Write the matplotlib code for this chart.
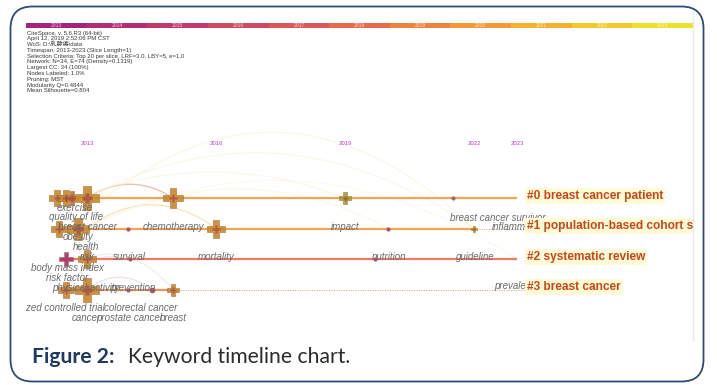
import numpy as np
import matplotlib
matplotlib.use("Agg")
import matplotlib.pyplot as plt
from matplotlib.patches import FancyBboxPatch

plt.rcParams['font.family'] = ['Liberation Sans', 'Noto Sans CJK SC']

# ---- data ----
slice_years = [2013, 2014, 2015, 2016, 2017, 2018, 2019, 2020, 2021, 2022, 2023]
slice_colors = ['#a3247f', '#b22d77', '#c03a6d', '#cd4a63', '#d95a57', '#e46c4b',
                '#ec8340', '#f29a37', '#f4b12f', '#f3c92b', '#efe12a']

info_lines = [
    "CiteSpace, v. 5.6.R3 (64-bit)",
    "April 12, 2019 2:52:06 PM CST",
    "WoS: D:\\乳腺癌\\data",
    "Timespan: 2013-2023 (Slice Length=1)",
    "Selection Criteria: Top 20 per slice, LRF=3.0, LBY=5, e=1.0",
    "Network: N=34, E=74 (Density=0.1319)",
    "Largest CC: 34 (100%)",
    "Nodes Labeled: 1.0%",
    "Pruning: MST",
    "Modularity Q=0.4844",
    "Mean Silhouette=0.804",
]

timeline_years = [2013, 2016, 2019, 2022, 2023]

cluster_labels = ["#0 breast cancer patient", "#1 population-based cohort study",
                  "#2 systematic review", "#3 breast cancer"]
cluster_rows = [0, 1, 2, 3]
line_start = [2012.4, 2012.4, 2012.4, 2012.4]
solid_end = [2023.0, 2022.0, 2023.0, 2015.0]
dotted_end = [2023.0, 2023.2, 2023.0, 2023.2]
line_colors = ['#f0a456', '#f0a456', '#f07c68', '#e8965e']

node_year = [2012.3, 2012.5, 2012.65, 2013.0, 2015.0, 2019.0, 2021.5,
             2012.35, 2012.8, 2013.95, 2016.0, 2020.0, 2022.0,
             2012.5, 2013.0, 2014.0, 2019.7,
             2012.5, 2013.0, 2013.95, 2014.5, 2015.0]
node_row = [0, 0, 0, 0, 0, 0, 0,
            1, 1, 1, 1, 1, 1,
            2, 2, 2, 2,
            3, 3, 3, 3, 3]
node_size = [11, 12, 10, 17, 14, 8, 2,
             12, 16, 2, 13, 2, 5,
             10, 13, 2, 2,
             12, 17, 2, 3, 9]
node_color = ['#c98a30', '#c98a30', '#b8703a', '#c98a30', '#c98a30', '#a9a232', '#b06060',
              '#c98a30', '#c98a30', '#b05060', '#c98a30', '#b05060', '#a9a232',
              '#b0307a', '#c98a30', '#b05060', '#b05060',
              '#c98a30', '#c98a30', '#b05060', '#b05060', '#c98a30']

kw_text = ["exercise", "quality of life", "breast cancer", "chemotherapy", "obesity",
           "health", "risk", "survival", "mortality", "nutrition", "guideline",
           "body mass index", "risk factor", "physical activity", "prevention",
           "colorectal cancer", "cancer", "prostate cancer", "breast",
           "impact", "breast cancer survivor", "inflammation", "prevalence"]
kw_year = [2012.30, 2012.12, 2012.33, 2014.30, 2012.44,
           2012.67, 2012.84, 2013.60, 2015.58, 2019.63, 2021.58,
           2011.70, 2012.05, 2012.19, 2013.53,
           2013.40, 2012.65, 2013.21, 2014.70,
           2018.67, 2021.44, 2022.42, 2022.47]
kw_row = [0.33, 0.62, 0.95, 0.95, 1.28,
          1.61, 1.93, 1.93, 1.93, 1.93, 1.93,
          2.30, 2.62, 2.95, 2.95,
          3.61, 3.93, 3.93, 3.93,
          0.95, 0.66, 0.95, 2.89]
# this one runs off the left edge, so anchor it by its right end
rct_text, rct_year, rct_row = "randomized controlled trial", 2013.42, 3.61

# links: from (year, row) to (year, row), control row, colour, alpha
link_a = [(2013.0, 0), (2013.0, 1), (2012.6, 1), (2012.8, 0), (2013.0, 1),
          (2013.0, 0), (2013.0, 1), (2013.0, 3), (2012.5, 3), (2012.8, 1), (2013.0, 2)]
link_b = [(2015.0, 0), (2016.0, 1), (2022.0, 1), (2019.0, 0), (2020.0, 1),
          (2022.0, 1), (2023.0, 2), (2014.5, 3), (2013.9, 2), (2012.9, 3), (2015.0, 3)]
link_ctrl = [-0.9, -0.55, -5.3, -1.7, -1.6, -3.4, -2.6, 2.2, 1.6, 2.0, 1.4]
link_color = ['#eab0a0', '#f2dca0', '#f8f4d8', '#f8f2d8', '#f8f3da',
              '#f8f3d8', '#faf5de', '#e6d0e4', '#ead4e6', '#eed0dc', '#ead8e6']
link_alpha = [0.8, 0.7, 0.6, 0.5, 0.5, 0.5, 0.45, 0.6, 0.5, 0.5, 0.45]

# ---- figure ----
W, H = 717, 385
fig = plt.figure(figsize=(W / 100, H / 100), dpi=100)

bg = fig.add_axes([0, 0, 1, 1])
bg.set_xlim(0, W)
bg.set_ylim(H, 0)
bg.axis('off')

# frame and inner image edge
bg.add_patch(FancyBboxPatch((10.5, 6.5), 693, 375, boxstyle="round,pad=0,rounding_size=22",
                            fc='white', ec='#2f4a78', lw=1.3, zorder=0))
bg.plot([693, 693], [12, 340], color='#e8e8e8', lw=1.0, zorder=1)

# info text
for i, line in enumerate(info_lines):
    bg.text(27, 33 + i * 5.8, line, fontsize=4.3, color='#3a3a3a', va='center', ha='left')

# caption
bg.text(32, 363, "Figure 2:", fontsize=15.2, fontweight='bold', color='#1f3864',
        family='Lato', va='baseline')
bg.text(128, 363, "Keyword timeline chart.", fontsize=15.2, color='#2b2b2b',
        family='Lato', va='baseline')

# slice colour bar
cb = fig.add_axes([26 / W, 1 - 28.3 / H, (693 - 26) / W, 5.6 / H])
cb.bar(range(len(slice_years)), 1, width=1.0, color=slice_colors)
for i, y in enumerate(slice_years):
    cb.text(i, 0.5, str(y), fontsize=3.6, color='white', alpha=0.75, ha='center', va='center')
cb.set_xlim(-0.5, len(slice_years) - 0.5)
cb.set_ylim(0, 1)
cb.axis('off')

# timeline
ax = fig.add_axes([26 / W, 1 - 340 / H, (693 - 26) / W, 240 / H])
ax.set_xlim(2013 + (26 - 87) / 43, 2013 + (693 - 87) / 43)
ax.set_ylim((340 - 198) / 30.5, (100 - 198) / 30.5)
ax.axis('off')

t = np.linspace(0, 1, 60)
for (x0, y0), (x1, y1), c, col, al in zip(link_a, link_b, link_ctrl, link_color, link_alpha):
    xm = (x0 + x1) / 2
    bx = (1 - t) ** 2 * x0 + 2 * (1 - t) * t * xm + t ** 2 * x1
    by = (1 - t) ** 2 * y0 + 2 * (1 - t) * t * c + t ** 2 * y1
    ax.plot(bx, by, color=col, lw=1.0, alpha=al, zorder=1)

for r, x0, xs, xd, col in zip(cluster_rows, line_start, solid_end, dotted_end, line_colors):
    ax.plot([x0, xs], [r, r], color=col, lw=1.6, zorder=2, solid_capstyle='butt')
    if xd > xs:
        ax.plot([xs, xd], [r, r], color='#c8a070', lw=0.7, ls=(0, (1, 1.5)), zorder=2)

for x, r, s, col in zip(node_year, node_row, node_size, node_color):
    if s <= 3:
        ax.plot(x, r, 'o', ms=s, color=col, zorder=4)
    else:
        ax.plot(x, r, 'P', ms=s, mfc=col, mec='#a06c2c', mew=0.4, alpha=0.92, zorder=3)
        ax.plot(x, r, 'P', ms=s * 0.45, mfc='#a44448', mec='none', alpha=0.7, zorder=4)

for txt, x, r in zip(kw_text, kw_year, kw_row):
    ax.text(x, r, txt, fontsize=7.0, style='italic', color='#6c6c6c', ha='left',
            va='center', zorder=5, clip_on=True)
ax.text(rct_year, rct_row, rct_text, fontsize=7.0, style='italic', color='#6c6c6c',
        ha='right', va='center', zorder=5, clip_on=True)

for y in timeline_years:
    ax.text(y, -1.8, str(y), fontsize=4.3, color='#c040c8', ha='center', va='center')

for r, lab in zip(cluster_rows, cluster_labels):
    ax.text(2013 + (527 - 87) / 43, r - 0.08, lab, fontsize=8.6, fontweight='bold',
            color='#c8461c', ha='left', va='center', zorder=6, clip_on=True,
            bbox=dict(fc='#fffbd6', ec='none', pad=1.5))

fig.savefig('out.png', dpi=100)
